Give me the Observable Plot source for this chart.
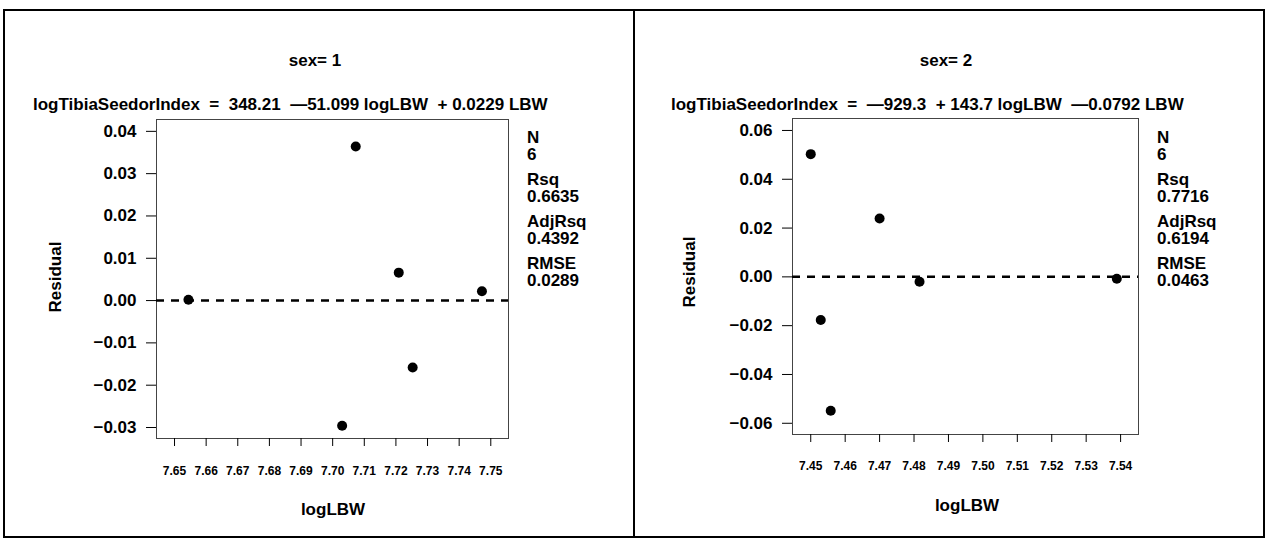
<!DOCTYPE html>
<html><head><meta charset="utf-8">
<script src="https://cdn.jsdelivr.net/npm/d3@7"></script>
<script src="https://cdn.jsdelivr.net/npm/@observablehq/plot@0.6"></script>
<style>
body{margin:0;background:#fff;}
#root{position:relative;width:1267px;height:538px;overflow:hidden;font-family:"Liberation Sans",Arial,sans-serif;font-weight:bold;color:#000;background:#fff;}
.t{position:absolute;white-space:pre;line-height:1;font-size:17px;}
.b{position:absolute;background:#000;}
svg{position:absolute;}
</style></head><body><div id="root"></div>
<script>
// ---- data ----
const panelTitles = ["sex= 1", "sex= 2"];
const equations = [
  "logTibiaSeedorIndex  =  348.21  \u201451.099 logLBW  + 0.0229 LBW",
  "logTibiaSeedorIndex  =  \u2014929.3  + 143.7 logLBW  \u20140.0792 LBW"
];
const statLabels = ["N", "Rsq", "AdjRsq", "RMSE"];
const sex1Stats = ["6", "0.6635", "0.4392", "0.0289"];
const sex2Stats = ["6", "0.7716", "0.6194", "0.0463"];

const sex1LogLBW = [7.6544, 7.7073, 7.7209, 7.7253, 7.7030, 7.7472];
const sex1Resid  = [0.0002, 0.0364, 0.0066, -0.0158, -0.0296, 0.0022];
const sex2LogLBW = [7.4500, 7.4529, 7.4558, 7.4700, 7.4816, 7.5389];
const sex2Resid  = [0.0503, -0.0177, -0.0549, 0.0239, -0.0020, -0.0008];

const sex1XTicks = [7.65, 7.66, 7.67, 7.68, 7.69, 7.70, 7.71, 7.72, 7.73, 7.74, 7.75];
const sex1YTicks = [-0.03, -0.02, -0.01, 0.00, 0.01, 0.02, 0.03, 0.04];
const sex2XTicks = [7.45, 7.46, 7.47, 7.48, 7.49, 7.50, 7.51, 7.52, 7.53, 7.54];
const sex2YTicks = [-0.06, -0.04, -0.02, 0.00, 0.02, 0.04, 0.06];

const sex1XDomain = [7.6443, 7.7556];
const sex1YDomain = [-0.0326, 0.0428];
const sex2XDomain = [7.4447, 7.5452];
const sex2YDomain = [-0.0646, 0.0649];

const xLabel = "logLBW";
const yLabel = "Residual";

// ---- drawing ----
const root = document.getElementById("root");
function txt(s, x, y, opts = {}) {
  const d = document.createElement("div");
  d.className = "t";
  d.textContent = s;
  d.style.left = x + "px";
  d.style.top = y + "px";
  if (opts.size) d.style.fontSize = opts.size + "px";
  let tr = opts.anchor === "middle" ? "translate(-50%,-50%)" : "translate(0,-50%)";
  if (opts.rotate) tr += " rotate(" + opts.rotate + "deg)";
  d.style.transform = tr;
  root.appendChild(d);
}
const fmtY = d => (d < 0 ? "\u2212" : "") + Math.abs(d).toFixed(2);
const fmtX = d => d.toFixed(2);

function panel(xs, ys, xDomain, yDomain, xTicks, yTicks, geo) {
  const data = xs.map((x, i) => ({x, y: ys[i]}));
  const svg = Plot.plot({
    width: geo.w, height: geo.h,
    marginLeft: geo.ml, marginRight: geo.mr, marginTop: geo.mt, marginBottom: geo.mb,
    x: {domain: xDomain},
    y: {domain: yDomain},
    style: {fontFamily: "Liberation Sans, Arial, sans-serif", fontWeight: "bold", fontSize: "17px", color: "black", background: "transparent", overflow: "visible"},
    marks: [
      Plot.frame({stroke: "#444", strokeWidth: 1}),
      Plot.ruleY([0], {stroke: "black", strokeWidth: 2.5, strokeDasharray: "8,7"}),
      Plot.dot(data, {x: "x", y: "y", r: 5, fill: "black"}),
      Plot.axisY(yTicks, {tickSize: 10, tickPadding: 10, tickFormat: fmtY, label: null, fontSize: 17}),
      Plot.axisX(xTicks, {tickSize: 8, tickPadding: geo.xpad, tickFormat: fmtX, label: null, fontSize: 12})
    ]
  });
  svg.style.left = geo.left + "px";
  svg.style.top = "0px";
  root.appendChild(svg);
}

panel(sex1LogLBW, sex1Resid, sex1XDomain, sex1YDomain, sex1XTicks, sex1YTicks,
  {left: 0, w: 634, h: 538, ml: 156, mr: 126, mt: 119, mb: 100, xpad: 20});
panel(sex2LogLBW, sex2Resid, sex2XDomain, sex2YDomain, sex2XTicks, sex2YTicks,
  {left: 634, w: 633, h: 538, ml: 158, mr: 129, mt: 118, mb: 104, xpad: 19});

// titles and equations
txt(panelTitles[0], 315, 60, {anchor: "middle"});
txt(panelTitles[1], 946, 60, {anchor: "middle"});
txt(equations[0], 33, 104);
txt(equations[1], 671, 104);

// stats
function stats(vals, x) {
  statLabels.forEach((lab, i) => {
    txt(lab, x, 137 + 42 * i);
    txt(vals[i], x, 154 + 42 * i);
  });
}
stats(sex1Stats, 527);
stats(sex2Stats, 1157);

// axis labels
txt(yLabel, 55, 277, {anchor: "middle", rotate: -90});
txt(yLabel, 689, 272, {anchor: "middle", rotate: -90});
txt(xLabel, 333, 509, {anchor: "middle"});
txt(xLabel, 967, 505, {anchor: "middle"});

// panel borders
function bar(l, t, w, h) { const d = document.createElement("div"); d.className = "b"; Object.assign(d.style, {left: l + "px", top: t + "px", width: w + "px", height: h + "px"}); root.appendChild(d); }
bar(3, 9, 1262, 2);
bar(3, 9, 2, 529);
bar(633, 9, 2, 529);
bar(1263, 9, 2, 529);
bar(3, 536, 1262, 2);
</script></body></html>
